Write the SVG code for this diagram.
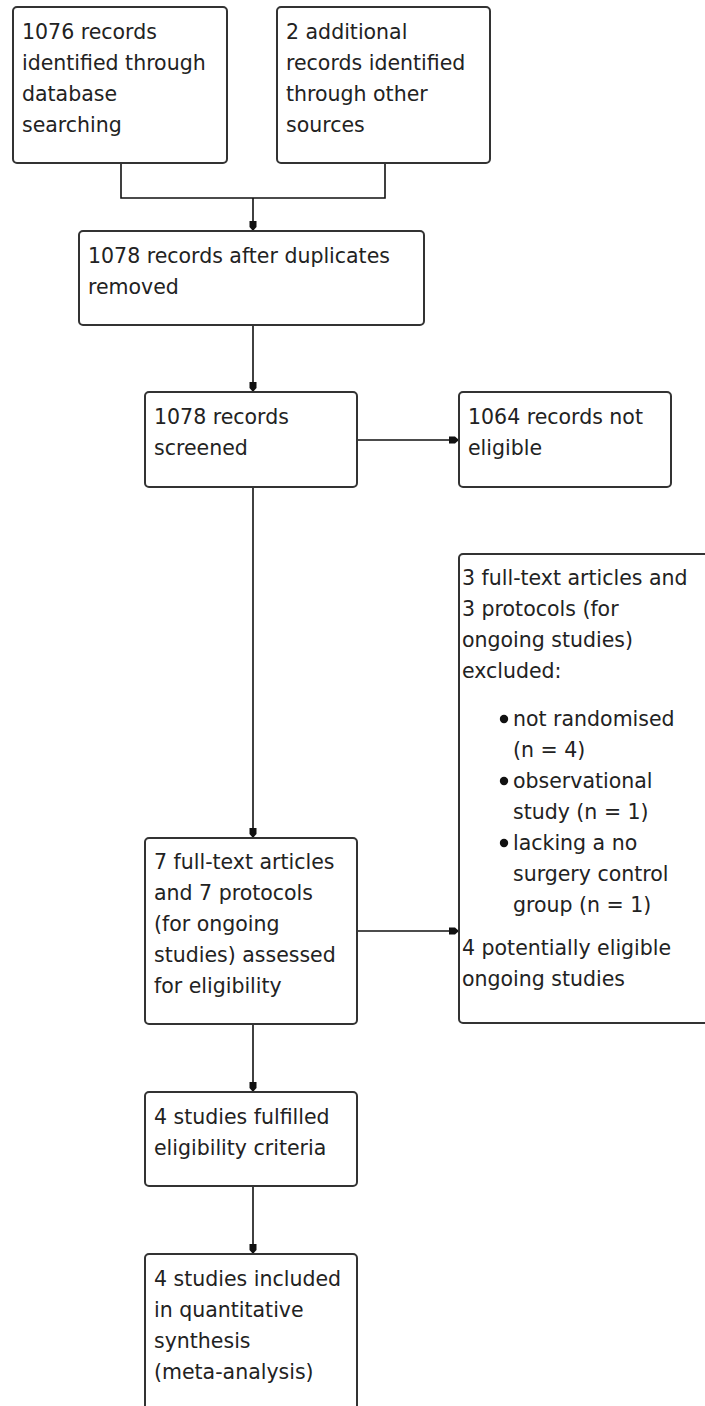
<svg xmlns="http://www.w3.org/2000/svg" width="705" height="1406" viewBox="0 0 705 1406">
<style>
  .box { fill: #ffffff; stroke: #333333; stroke-width: 2; }
  .t { font-family: "DejaVu Sans", "Liberation Sans", sans-serif; font-size: 20.5px; fill: #222222; }
  .c { fill: none; stroke: #111111; stroke-width: 1.6; }
  .b { fill: #111111; }
</style>
<defs>
  <marker id="ah" viewBox="-1 -5 12 10" refX="10" refY="0" markerWidth="12" markerHeight="10" markerUnits="userSpaceOnUse" orient="auto">
    <path d="M0,-3.5 L6,-3.5 L10,0 L6,3.5 L0,3.5 Z" fill="#111111"/>
  </marker>
</defs>
<rect width="705" height="1406" fill="#ffffff"/>

<g id="connectors">
  <path class="c" d="M121,163 V198 H385 V163"/>
  <path class="c" d="M253,198 V231" marker-end="url(#ah)"/>
  <path class="c" d="M253,325 V392" marker-end="url(#ah)"/>
  <path class="c" d="M357,440 H459" marker-end="url(#ah)"/>
  <path class="c" d="M253,487 V838" marker-end="url(#ah)"/>
  <path class="c" d="M357,931 H459" marker-end="url(#ah)"/>
  <path class="c" d="M253,1024 V1092" marker-end="url(#ah)"/>
  <path class="c" d="M253,1186 V1254" marker-end="url(#ah)"/>
</g>

<g id="n-db">
  <rect class="box" x="13" y="7" width="214" height="156" rx="4"/>
  <text class="t" x="22" y="39">1076 records</text>
  <text class="t" x="22" y="70">identified through</text>
  <text class="t" x="22" y="101">database</text>
  <text class="t" x="22" y="132">searching</text>
</g>

<g id="n-other">
  <rect class="box" x="277" y="7" width="213" height="156" rx="4"/>
  <text class="t" x="286" y="39">2 additional</text>
  <text class="t" x="286" y="70">records identified</text>
  <text class="t" x="286" y="101">through other</text>
  <text class="t" x="286" y="132">sources</text>
</g>

<g id="n-dedup">
  <rect class="box" x="79" y="231" width="345" height="94" rx="4"/>
  <text class="t" x="88" y="263">1078 records after duplicates</text>
  <text class="t" x="88" y="294">removed</text>
</g>

<g id="n-screened">
  <rect class="box" x="145" y="392" width="212" height="95" rx="4"/>
  <text class="t" x="154" y="424">1078 records</text>
  <text class="t" x="154" y="455">screened</text>
</g>

<g id="n-noteligible">
  <rect class="box" x="459" y="392" width="212" height="95" rx="4"/>
  <text class="t" x="468" y="424">1064 records not</text>
  <text class="t" x="468" y="455">eligible</text>
</g>

<g id="n-excluded">
  <rect class="box" x="459" y="554" width="270" height="469" rx="4"/>
  <text class="t" x="462" y="585">3 full-text articles and</text>
  <text class="t" x="462" y="616">3 protocols (for</text>
  <text class="t" x="462" y="647">ongoing studies)</text>
  <text class="t" x="462" y="678">excluded:</text>
  <circle class="b" cx="504" cy="719" r="4.2"/>
  <text class="t" x="513" y="726">not randomised</text>
  <text class="t" x="513" y="757">(n = 4)</text>
  <circle class="b" cx="504" cy="781" r="4.2"/>
  <text class="t" x="513" y="788">observational</text>
  <text class="t" x="513" y="819">study (n = 1)</text>
  <circle class="b" cx="504" cy="843" r="4.2"/>
  <text class="t" x="513" y="850">lacking a no</text>
  <text class="t" x="513" y="881">surgery control</text>
  <text class="t" x="513" y="912">group (n = 1)</text>
  <text class="t" x="462" y="955">4 potentially eligible</text>
  <text class="t" x="462" y="986">ongoing studies</text>
</g>

<g id="n-assessed">
  <rect class="box" x="145" y="838" width="212" height="186" rx="4"/>
  <text class="t" x="154" y="869">7 full-text articles</text>
  <text class="t" x="154" y="900">and 7 protocols</text>
  <text class="t" x="154" y="931">(for ongoing</text>
  <text class="t" x="154" y="962">studies) assessed</text>
  <text class="t" x="154" y="993">for eligibility</text>
</g>

<g id="n-fulfilled">
  <rect class="box" x="145" y="1092" width="212" height="94" rx="4"/>
  <text class="t" x="154" y="1124">4 studies fulfilled</text>
  <text class="t" x="154" y="1155">eligibility criteria</text>
</g>

<g id="n-included">
  <rect class="box" x="145" y="1254" width="212" height="180" rx="4"/>
  <text class="t" x="154" y="1286">4 studies included</text>
  <text class="t" x="154" y="1317">in quantitative</text>
  <text class="t" x="154" y="1348">synthesis</text>
  <text class="t" x="154" y="1379">(meta-analysis)</text>
</g>
</svg>
